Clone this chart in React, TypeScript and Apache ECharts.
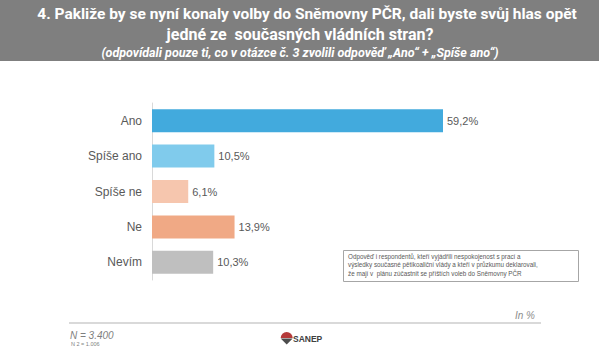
import React, { useEffect, useRef } from "react";
import * as echarts from "echarts";

const categories = ["Ano", "Spíše ano", "Spíše ne", "Ne", "Nevím"];
const values = [59.2, 10.5, 6.1, 13.9, 10.3];
const barColors = ["#42aadd", "#80cbec", "#f6c6ae", "#f0a985", "#bfbfbf"];

const titleLine1 = "4. Pakliže by se nyní konaly volby do Sněmovny PČR, dali byste svůj hlas opět";
const titleLine2 = "jedné ze  současných vládních stran?";
const subtitle = "(odpovídali pouze ti, co v otázce č. 3 zvolili odpověď „Ano“ + „Spíše ano“)";
const noteLines = [
  "Odpověď i respondentů, kteří vyjádřili nespokojenost s prací a",
  "výsledky současné pětikoaliční vlády a kteří v průzkumu deklarovali,",
  "že mají v  plánu zúčastnit se příštích voleb do Sněmovny PČR",
];
const unitText = "In %";
const nText = "N = 3.400";
const n2Text = "N 2 = 1.006";
const logoText = "SANEP";

export default function App() {
  const ref = useRef<HTMLDivElement>(null);
  useEffect(() => {
    if (!ref.current) return;
    const chart = echarts.init(ref.current, null, { renderer: "svg" });
    const font = "Liberation Sans, Arial, sans-serif";
    const option: any = {
      animation: false,
      backgroundColor: "#ffffff",
      grid: { left: 152, top: 103, width: 291, height: 177, containLabel: false },
      xAxis: {
        type: "value",
        min: 0,
        max: 49,
        show: false,
        splitLine: { show: false },
      },
      yAxis: {
        type: "category",
        inverse: true,
        data: categories,
        axisLine: { show: true, lineStyle: { color: "#d9d9d9", width: 1 } },
        axisTick: { show: false },
        axisLabel: { color: "#595959", fontSize: 12, margin: 10, fontFamily: font },
      },
      series: [
        {
          type: "bar",
          clip: true,
          barWidth: 23,
          data: values.map((v, i) => ({ value: v, itemStyle: { color: barColors[i] } })),
          label: {
            show: true,
            position: "right",
            distance: 4,
            color: "#595959",
            fontSize: 11,
            fontFamily: font,
            formatter: (p: any) => p.value.toFixed(1).replace(".", ",") + "%",
          },
        },
      ],
      graphic: [
        { type: "rect", shape: { x: 0, y: 0, width: 599, height: 61 }, style: { fill: "#7f7f7f" }, z: 0 },
        {
          type: "text", x: 307, y: 14,
          style: { text: titleLine1, fill: "#ffffff", font: "bold 15.5px Roboto, sans-serif", textAlign: "center", textVerticalAlign: "middle" },
        },
        {
          type: "text", x: 300, y: 34.5,
          style: { text: titleLine2, fill: "#ffffff", font: "bold 16px Roboto, sans-serif", textAlign: "center", textVerticalAlign: "middle" },
        },
        {
          type: "text", x: 300, y: 52.5,
          style: { text: subtitle, fill: "#ffffff", font: "italic bold 12.5px Roboto, sans-serif", textAlign: "center", textVerticalAlign: "middle" },
        },
        {
          type: "rect", shape: { x: 343.5, y: 250.5, width: 235, height: 31 },
          style: { fill: "#ffffff", stroke: "#a6a6a6", lineWidth: 1 },
        },
        ...noteLines.map((t, i) => ({
          type: "text", x: 348, y: 256 + i * 8.5,
          style: { text: t, fill: "#595959", font: "6.3px Liberation Sans, Arial, sans-serif", textVerticalAlign: "middle" },
        })),
        {
          type: "text", x: 535, y: 315,
          style: { text: unitText, fill: "#8c8c8c", font: "italic 10px Liberation Sans, Arial, sans-serif", textAlign: "right", textVerticalAlign: "middle" },
        },
        {
          type: "line", shape: { x1: 69, y1: 323, x2: 541, y2: 323 },
          style: { stroke: "#d9d9d9", lineWidth: 2 },
        },
        {
          type: "text", x: 70, y: 335,
          style: { text: nText, fill: "#7f7f7f", font: "italic 10px Liberation Sans, Arial, sans-serif", textVerticalAlign: "middle" },
        },
        {
          type: "text", x: 71, y: 343.5,
          style: { text: n2Text, fill: "#7f7f7f", font: "5.5px Liberation Sans, Arial, sans-serif", textVerticalAlign: "middle" },
        },
        {
          type: "sector",
          shape: { cx: 286.7, cy: 338, r0: 0, r: 6, startAngle: Math.PI, endAngle: Math.PI * 2 },
          style: { fill: "#b53a3a" },
        },
        {
          type: "polygon",
          shape: { points: [[280.7, 338.5], [292.7, 338.5], [286.7, 344.5]] },
          style: { fill: "#4d4d4d" },
        },
        {
          type: "text", x: 293, y: 338.5,
          style: { text: logoText, fill: "#404040", font: "bold 8.5px Liberation Sans, Arial, sans-serif", textVerticalAlign: "middle" },
        },
      ],
    };
    chart.setOption(option);
    return () => chart.dispose();
  }, []);
  return (
    <div
      ref={ref}
      style={{ position: "fixed", left: 0, top: 0, width: 599, height: 355 }}
    />
  );
}
